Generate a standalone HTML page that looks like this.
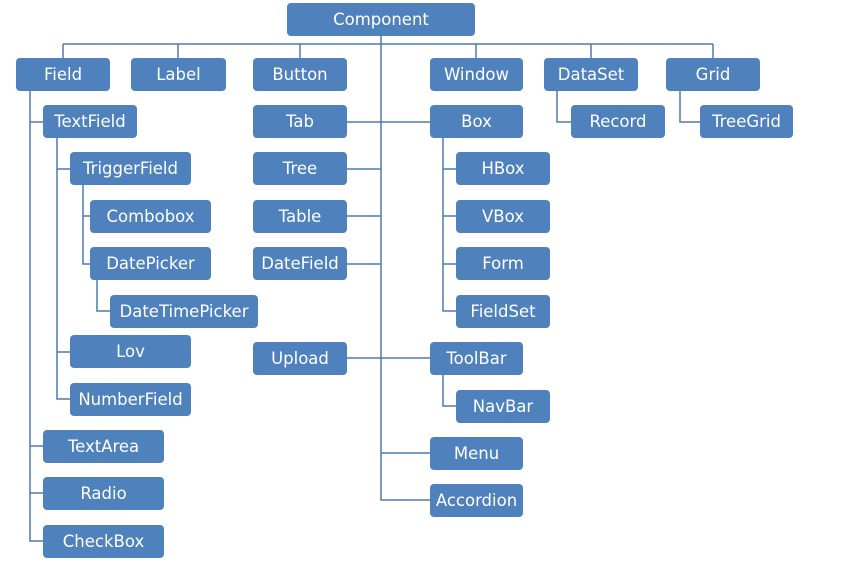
<!DOCTYPE html>
<html><head><meta charset="utf-8"><style>
html,body{margin:0;padding:0;background:#fff;width:845px;height:561px;overflow:hidden;position:relative;font-family:"DejaVu Sans","Liberation Sans",sans-serif;}
.b{position:absolute;background:#4f81bd;color:#fff;border-radius:4px;display:flex;align-items:center;justify-content:center;font-size:16.5px;height:33px;}
svg{position:absolute;left:0;top:0}
</style></head><body>
<svg width="845" height="561">
<g stroke="#4f7ab0" stroke-width="1.5" fill="none">
<path d="M63 44H713M63 44V58M178 44V58M300 44V58M476 44V58M591 44V58M713 44V58"/>
<path d="M381 36V500H430M381 122H430M347 122H381M347 169H381M347 216H381M347 264H381M347 358H430M381 453H430"/>
<path d="M30 90V541H43M30 122H43M30 446H43M30 493H43"/>
<path d="M57 138V399H70M57 169H70M57 352H70"/>
<path d="M83 185V264H90M83 216H90"/>
<path d="M97 280V311H110"/>
<path d="M443 138V311H456M443 169H456M443 216H456M443 264H456"/>
<path d="M443 375V406H456"/>
<path d="M557 90V122H571M680 90V122H700"/>
</g>
</svg>
<div class="b" style="left:287px;top:3px;width:188px;">Component</div>
<div class="b" style="left:16px;top:58px;width:94px;">Field</div>
<div class="b" style="left:131px;top:58px;width:95px;">Label</div>
<div class="b" style="left:253px;top:58px;width:94px;">Button</div>
<div class="b" style="left:430px;top:58px;width:93px;">Window</div>
<div class="b" style="left:544px;top:58px;width:94px;">DataSet</div>
<div class="b" style="left:666px;top:58px;width:94px;">Grid</div>
<div class="b" style="left:43px;top:105px;width:94px;">TextField</div>
<div class="b" style="left:70px;top:152px;width:121px;">TriggerField</div>
<div class="b" style="left:90px;top:200px;width:121px;">Combobox</div>
<div class="b" style="left:90px;top:247px;width:121px;">DatePicker</div>
<div class="b" style="left:110px;top:295px;width:148px;">DateTimePicker</div>
<div class="b" style="left:70px;top:335px;width:121px;">Lov</div>
<div class="b" style="left:70px;top:383px;width:121px;">NumberField</div>
<div class="b" style="left:43px;top:430px;width:121px;">TextArea</div>
<div class="b" style="left:43px;top:477px;width:121px;">Radio</div>
<div class="b" style="left:43px;top:525px;width:121px;">CheckBox</div>
<div class="b" style="left:253px;top:105px;width:94px;">Tab</div>
<div class="b" style="left:253px;top:152px;width:94px;">Tree</div>
<div class="b" style="left:253px;top:200px;width:94px;">Table</div>
<div class="b" style="left:253px;top:247px;width:94px;">DateField</div>
<div class="b" style="left:253px;top:342px;width:94px;">Upload</div>
<div class="b" style="left:430px;top:105px;width:93px;">Box</div>
<div class="b" style="left:456px;top:152px;width:94px;">HBox</div>
<div class="b" style="left:456px;top:200px;width:94px;">VBox</div>
<div class="b" style="left:456px;top:247px;width:94px;">Form</div>
<div class="b" style="left:456px;top:295px;width:94px;">FieldSet</div>
<div class="b" style="left:430px;top:342px;width:93px;">ToolBar</div>
<div class="b" style="left:456px;top:390px;width:94px;">NavBar</div>
<div class="b" style="left:430px;top:437px;width:93px;">Menu</div>
<div class="b" style="left:430px;top:484px;width:93px;">Accordion</div>
<div class="b" style="left:571px;top:105px;width:94px;">Record</div>
<div class="b" style="left:700px;top:105px;width:93px;">TreeGrid</div>
</body></html>
